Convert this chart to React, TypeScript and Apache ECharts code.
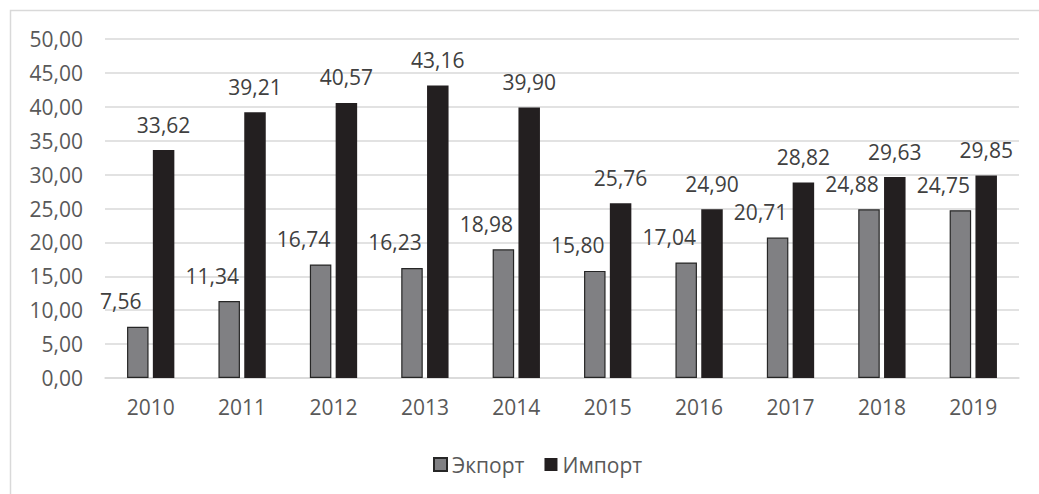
import React, { useEffect, useRef } from "react";
import * as echarts from "echarts";

const years = ["2010", "2011", "2012", "2013", "2014", "2015", "2016", "2017", "2018", "2019"];
const exportValues = [7.56, 11.34, 16.74, 16.23, 18.98, 15.8, 17.04, 20.71, 24.88, 24.75];
const importValues = [33.62, 39.21, 40.57, 43.16, 39.9, 25.76, 24.9, 28.82, 29.63, 29.85];
const seriesNames = ["Экпорт", "Импорт"];

const FONT = "Open Sans";
const FS = 21;
const fmt = (v: number) => v.toFixed(2).replace(".", ",");

export default function App() {
  const ref = useRef<HTMLDivElement>(null);
  useEffect(() => {
    if (!ref.current) return;
    const chart = echarts.init(ref.current, null, { renderer: "svg" });
    chart.setOption({
      animation: false,
      backgroundColor: "#ffffff",
      textStyle: { fontFamily: FONT },
      graphic: [
        {
          type: "rect",
          shape: { x: 10.5, y: 10.5, width: 1040, height: 490 },
          style: { fill: "none", stroke: "#d9d9d9", lineWidth: 1.5 },
          silent: true,
        },
      ],
      grid: { left: 105, right: 20, top: 39, bottom: 116, containLabel: false },
      legend: {
        left: 428,
        top: 449,
        itemWidth: 13,
        itemHeight: 13,
        itemGap: 20,
        icon: "rect",
        textStyle: { fontFamily: FONT, fontSize: FS, color: "#595959" },
        data: seriesNames,
      },
      xAxis: {
        type: "category",
        data: years,
        axisLine: { show: true, lineStyle: { color: "#d9d9d9", width: 1.5 } },
        axisTick: { show: false },
        axisLabel: { fontFamily: FONT, fontSize: FS, color: "#595959", margin: 18 },
      },
      yAxis: {
        type: "value",
        min: 0,
        max: 50,
        interval: 5,
        axisLine: { show: false },
        axisTick: { show: false },
        splitLine: { lineStyle: { color: "#d9d9d9", width: 1.5 } },
        axisLabel: {
          fontFamily: FONT,
          fontSize: FS,
          color: "#595959",
          margin: 22,
          formatter: (v: number) => fmt(v),
        },
      },
      series: [
        {
          name: seriesNames[0],
          type: "bar",
          data: exportValues,
          barWidth: 21.5,
          barGap: "20%",
          itemStyle: { color: "#808083", borderColor: "#262626", borderWidth: 1.2 },
          label: {
            show: true,
            position: "top",
            distance: 15,
            offset: [-17, 0],
            fontFamily: FONT,
            fontSize: FS,
            color: "#404040",
            formatter: (p: any) => fmt(p.value),
          },
        },
        {
          name: seriesNames[1],
          type: "bar",
          data: importValues,
          barWidth: 21.5,
          itemStyle: { color: "#231f20" },
          label: {
            show: true,
            position: "top",
            distance: 15,
            fontFamily: FONT,
            fontSize: FS,
            color: "#404040",
            formatter: (p: any) => fmt(p.value),
          },
        },
      ],
    });
    return () => chart.dispose();
  }, []);
  return (
    <div
      ref={ref}
      style={{ position: "fixed", left: 0, top: 0, width: 1039, height: 494 }}
    />
  );
}
